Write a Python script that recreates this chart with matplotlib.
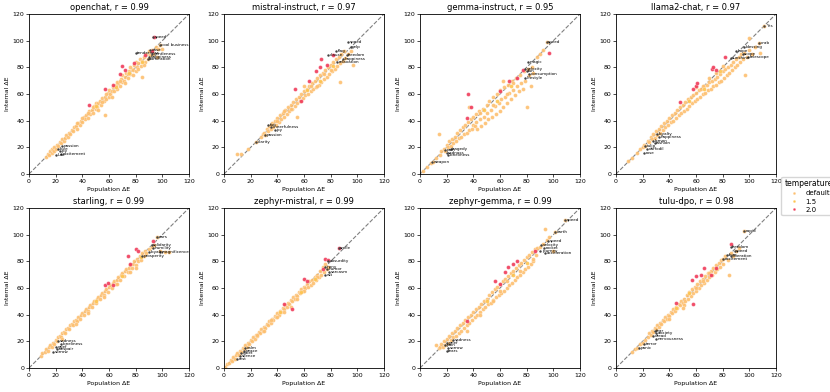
import matplotlib
matplotlib.use("Agg")
import matplotlib.pyplot as plt
from matplotlib.lines import Line2D

# ── colours ──────────────────────────────────────────────────────────────────
C_DEFAULT = "#fdbf6f"
C_T15     = "#fec44f"
C_T20     = "#f03b5a"
DIAG      = "#808080"

# ── data ─────────────────────────────────────────────────────────────────────
TITLES = ["openchat, r = 0.99", "mistral-instruct, r = 0.97", "gemma-instruct, r = 0.95",
          "llama2-chat, r = 0.97", "starling, r = 0.99", "zephyr-mistral, r = 0.99",
          "zephyr-gemma, r = 0.99", "tulu-dpo, r = 0.98"]
TICKS = [0, 20, 40, 60, 80, 100, 120]
LEGEND_LABELS = ["default", "1.5", "2.0"]

OPENCHAT_DEF = [(13,13),(14,15),(15,14),(16,17),(17,16),(17,19),(18,18),(19,20),(19,17),(20,19),(21,22),(22,21),
                (23,24),(24,23),(25,26),(26,25),(27,27),(28,29),(29,28),(30,31),(31,30),(32,33),(33,32),(34,35),
                (35,36),(36,34),(37,38),(38,37),(39,40),(40,39),(41,43),(42,41),(43,44),(44,42),(45,47),(46,45),
                (47,48),(48,46),(49,51),(50,49),(50,53),(51,50),(52,53),(53,55),(54,52),(55,57),(56,55),(57,44),
                (57,58),(58,56),(59,61),(60,58),(60,63),(61,60),(62,62),(63,65),(64,62),(65,67),(66,64),(67,68),
                (68,66),(69,71),(70,69),(70,74),(71,70),(72,73),(73,76),(74,72),(75,77),(76,75),(77,79),(78,78),
                (79,82),(80,77),(80,84),(81,80),(82,83),(83,86),(84,81),(85,73),(85,85),(86,88),(87,84),(88,90),
                (89,86),(90,92),(91,89),(92,93),(93,90),(95,95),(96,88),(97,94),(98,97),(100,94),(44,46),(52,48),
                (58,60),(62,58),(66,69),(74,75),(78,74),(82,79),(86,82),(48,50),(36,38),(40,42),(55,54),(64,66),
                (68,70),(72,68),(76,80)]
OPENCHAT_T15 = [(65,65),(75,76),(85,84),(50,51)]
OPENCHAT_T20 = [(94,103),(70,81),(72,78),(68,75),(57,64),(45,52),(79,83),(87,89),(92,92),(63,67)]
OPENCHAT_WORDS = [(93,103,"speed"),(98,97,"cool business"),(91,93,"ease"),(80,91,"tenderness"),(92,90,"gentleness"),
                  (90,88,"happiness"),(89,86,"admiration"),(25,21,"passion"),(22,19,"love"),(23,17,"joy"),
                  (24,15,"excitement"),(20,14,"lust")]

MISTRAL_DEF = [(10,15),(13,15),(18,19),(24,24),(28,28),(29,30),(30,31),(31,29),(32,34),(33,32),(34,36),(35,34),
               (36,38),(37,35),(38,40),(39,37),(40,42),(41,39),(42,44),(43,41),(44,46),(45,43),(46,48),(47,45),
               (48,50),(49,47),(50,52),(51,49),(52,54),(53,51),(54,56),(55,43),(55,53),(56,58),(57,55),(58,60),
               (59,57),(60,62),(61,59),(62,64),(63,60),(64,66),(65,62),(66,68),(67,64),(68,70),(69,65),(70,72),
               (71,67),(72,74),(73,69),(74,76),(75,71),(76,78),(77,73),(78,80),(79,75),(80,82),(81,77),(82,84),
               (83,79),(84,86),(85,81),(86,88),(87,69),(87,83),(88,90),(89,85),(90,92),(91,87),(93,90),(95,92),
               (97,82),(60,66),(65,66),(70,66),(75,75),(80,78),(45,47),(50,49),(40,40),(35,37)]
MISTRAL_T15 = [(62,63),(72,70),(82,81)]
MISTRAL_T20 = [(73,86),(69,77),(53,64),(58,55),(72,80),(64,70),(77,82),(82,89)]
MISTRAL_WORDS = [(93,99,"speed"),(95,95,"yelp"),(84,92,"flag"),(78,89,"clause"),(92,89,"freedom"),
                 (89,86,"happiness"),(85,84,"relaxation"),(33,37,"fun"),(35,35,"cheerfulness"),
                 (38,33,"joy"),(31,29,"passion"),(24,24,"clarity")]

GEMMA_DEF = [(2,2),(5,5),(8,8),(10,9),(12,12),(14,30),(15,14),(16,17),(18,19),(19,17),(20,22),(21,20),(22,25),
             (23,21),(24,26),(25,23),(26,28),(27,25),(28,31),(29,27),(30,33),(31,28),(32,35),(33,30),(34,37),
             (35,31),(36,39),(37,33),(38,41),(39,34),(40,43),(40,37),(41,36),(42,45),(42,39),(43,34),(44,47),
             (45,41),(46,36),(47,49),(48,43),(49,38),(50,52),(50,46),(51,41),(52,55),(53,48),(54,43),(55,58),
             (56,51),(57,45),(58,60),(59,53),(60,47),(60,63),(61,56),(62,50),(63,65),(64,58),(65,53),(66,67),
             (67,61),(68,56),(69,70),(70,63),(71,59),(72,72),(73,66),(74,62),(75,74),(76,68),(77,64),(78,77),
             (79,70),(80,50),(81,79),(82,74),(83,66),(84,80),(85,76),(88,88),(90,90),(92,93),(95,99),(37,50),
             (45,46),(55,52),(65,60),(70,68),(62,70)]
GEMMA_T15 = [(48,48),(58,55),(68,66)]
GEMMA_T20 = [(36,60),(38,50),(97,91),(67,70),(73,72),(77,78),(60,62),(35,42)]
GEMMA_WORDS = [(95,99,"speed"),(81,84,"magic"),(79,79,"velocity"),(80,77,"fun"),(82,75,"consumption"),
               (79,72,"lifestyle"),(23,19,"tragedy"),(19,18,"pain"),(20,16,"sadness"),(21,14,"loneliness"),
               (9,9,"weapon")]

LLAMA_DEF = [(9,10),(12,12),(16,16),(18,19),(20,20),(21,22),(22,21),(24,25),(25,24),(26,28),(27,26),(28,30),
             (29,27),(30,32),(31,29),(32,34),(33,31),(34,36),(35,33),(36,38),(37,35),(38,40),(39,37),(40,42),
             (41,39),(42,44),(43,40),(44,46),(45,42),(46,48),(47,44),(48,50),(49,46),(50,52),(51,47),(52,54),
             (53,49),(54,56),(55,51),(56,58),(57,53),(58,59),(59,55),(60,61),(61,56),(62,63),(63,58),(64,64),
             (65,60),(66,66),(67,61),(68,67),(69,63),(70,69),(71,64),(72,70),(73,66),(74,71),(75,67),(76,73),
             (77,69),(78,75),(79,70),(80,77),(81,72),(82,79),(83,74),(84,80),(85,76),(86,82),(87,78),(88,84),
             (89,80),(90,86),(91,82),(92,88),(93,84),(94,90),(95,86),(96,91),(97,74),(98,88),(100,93),(100,102),
             (102,90),(104,95),(107,98),(108,91),(111,111),(60,65),(70,72),(80,81),(65,66),(75,76)]
LLAMA_T15 = [(55,55),(66,64),(78,77)]
LLAMA_T20 = [(58,64),(60,66),(61,68),(72,79),(73,80),(75,78),(48,54),(82,88)]
LLAMA_WORDS = [(111,111,"Yes"),(107,98,"crab"),(96,95,"blessing"),(90,92,"hope"),(95,90,"scope"),
               (99,88,"telescope"),(86,87,"sunshine"),(31,30,"loyalty"),(32,28,"happiness"),(28,25,"lemon"),
               (29,23,"fashion"),(22,21,"tulip"),(23,19,"daffodil"),(21,16,"rose")]

STARLING_DEF = [(9,9),(10,11),(12,12),(13,14),(14,13),(15,16),(16,17),(17,16),(18,19),(19,18),(20,21),(21,20),
                (22,23),(23,24),(24,23),(25,26),(26,27),(27,26),(28,29),(29,30),(30,29),(31,32),(32,33),(33,32),
                (34,35),(35,36),(36,35),(37,38),(38,37),(39,40),(40,41),(41,40),(42,43),(43,44),(44,43),(45,46),
                (46,47),(47,46),(48,49),(49,50),(50,49),(51,52),(52,53),(53,52),(54,55),(55,56),(56,55),(57,58),
                (58,59),(59,57),(60,61),(61,62),(62,60),(63,64),(64,65),(65,63),(66,66),(67,68),(68,66),(69,70),
                (70,71),(71,69),(72,73),(73,74),(74,72),(75,75),(76,77),(77,75),(78,78),(79,80),(80,77),(81,82),
                (82,80),(83,84),(84,81),(85,86),(86,84),(87,88),(88,86),(90,89),(92,91),(94,92),(96,98),(98,88),
                (102,87),(105,87),(44,41),(56,53),(66,63),(76,72),(80,75),(35,33),(25,22)]
STARLING_T15 = [(50,50),(70,69),(84,83)]
STARLING_T20 = [(80,89),(82,88),(74,84),(63,62),(57,62),(59,64),(76,78),(93,95)]
STARLING_WORDS = [(96,98,"ears"),(92,92,"solidarity"),(93,90,"humility"),(90,87,"loyalty"),
                  (98,87,"magnificence"),(85,84,"prosperity"),(22,20,"sadness"),(24,18,"loneliness"),
                  (20,16,"grief"),(21,14,"despair"),(18,12,"sorrow")]

ZMISTRAL_DEF = [(1,1),(2,3),(4,4),(5,6),(6,5),(7,8),(8,7),(9,10),(10,11),(11,10),(12,13),(13,12),(14,15),(15,14),
                (16,17),(17,16),(18,19),(19,18),(20,21),(21,20),(22,23),(23,22),(24,25),(25,24),(26,27),(27,26),
                (28,29),(29,28),(30,31),(31,30),(32,33),(33,32),(34,35),(35,34),(36,37),(37,36),(38,39),(39,38),
                (40,41),(41,40),(42,43),(43,42),(44,45),(45,44),(46,47),(47,46),(48,49),(49,48),(50,51),(51,50),
                (52,53),(53,52),(54,55),(55,54),(56,57),(57,56),(58,59),(59,58),(60,61),(61,60),(62,63),(63,61),
                (64,65),(65,62),(66,66),(67,64),(68,68),(69,66),(70,70),(71,68),(72,73),(73,70),(74,76),(75,72),
                (76,78),(77,74),(78,76),(40,38),(45,42),(50,46),(55,52),(30,28),(25,25),(35,36),(60,58),(70,68)]
ZMISTRAL_T15 = [(42,42),(58,57),(68,67)]
ZMISTRAL_T20 = [(86,90),(76,82),(51,44),(60,67),(62,65),(78,81),(45,48),(74,74)]
ZMISTRAL_WORDS = [(86,90,"smile"),(78,80,"absurdity"),(76,76,"irony"),(77,74,"humor"),(79,72,"sarcasm"),
                  (76,70,"wit"),(16,15,"calm"),(15,13,"peace"),(13,11,"quiet"),(12,9,"silence"),(10,7,"rest")]

ZGEMMA_DEF = [(12,17),(14,15),(15,16),(16,18),(17,16),(18,20),(19,17),(20,22),(21,19),(22,24),(23,21),(24,26),
              (25,23),(26,28),(27,24),(28,30),(29,26),(30,32),(31,28),(32,34),(33,30),(34,36),(35,28),(35,32),
              (36,38),(37,34),(38,40),(39,36),(40,42),(41,38),(42,44),(43,40),(44,46),(45,42),(46,48),(47,44),
              (48,50),(49,46),(50,52),(51,48),(52,55),(53,49),(54,57),(55,51),(56,59),(57,53),(58,61),(59,55),
              (60,63),(61,56),(62,65),(63,58),(64,67),(65,60),(66,69),(67,62),(68,71),(69,64),(70,73),(71,66),
              (72,75),(73,68),(74,77),(75,70),(76,79),(77,72),(78,81),(79,74),(80,83),(81,76),(82,85),(83,78),
              (84,87),(85,80),(86,89),(87,85),(88,90),(90,91),(92,93),(94,104),(95,96),(97,98),(100,88),
              (101,102),(109,111),(45,40),(55,50),(65,65),(75,73),(85,82),(60,58)]
ZGEMMA_T15 = [(50,50),(70,70),(80,79)]
ZGEMMA_T20 = [(66,76),(70,78),(56,65),(64,72),(60,63),(73,80),(35,35),(86,88)]
ZGEMMA_WORDS = [(109,111,"speed"),(101,102,"earth"),(96,95,"speed"),(91,92,"velocity"),(93,90,"rocket"),
                (90,88,"journey"),(94,86,"acceleration"),(25,21,"sadness"),(20,19,"grief"),(19,17,"pain"),
                (21,15,"sorrow"),(20,13,"tears")]

TULU_DEF = [(12,12),(14,14),(16,15),(18,18),(20,19),(22,21),(24,23),(25,26),(26,25),(27,28),(28,27),(29,30),
            (30,29),(31,32),(32,31),(33,34),(34,33),(35,36),(36,35),(37,38),(38,37),(39,40),(40,39),(41,42),
            (42,41),(43,44),(44,43),(45,46),(46,45),(47,48),(48,47),(49,50),(50,49),(51,52),(52,50),(53,55),
            (54,52),(55,57),(56,54),(57,59),(58,56),(59,61),(60,58),(61,63),(62,60),(63,65),(64,62),(65,67),
            (66,64),(67,69),(68,66),(69,71),(70,68),(71,73),(72,70),(73,75),(74,72),(75,77),(76,74),(77,79),
            (78,76),(79,81),(80,78),(82,84),(84,81),(85,70),(86,86),(88,84),(90,88),(92,90),(96,103),(40,37),
            (51,47),(50,45),(60,60),(70,71),(80,82),(65,65)]
TULU_T15 = [(45,45),(55,56),(75,74)]
TULU_T20 = [(57,66),(60,69),(64,70),(71,70),(75,75),(45,49),(58,48),(86,93),(66,75)]
TULU_WORDS = [(96,103,"rapid"),(86,91,"freedom"),(89,88,"speed"),(83,85,"love"),(86,84,"liberation"),
              (80,82,"excitement"),(29,28,"fear"),(30,26,"anxiety"),(28,24,"dread"),(30,22,"nervousness"),
              (21,18,"terror"),(17,15,"panic")]

PANELS = [
    (OPENCHAT_DEF, OPENCHAT_T15, OPENCHAT_T20, OPENCHAT_WORDS),
    (MISTRAL_DEF, MISTRAL_T15, MISTRAL_T20, MISTRAL_WORDS),
    (GEMMA_DEF, GEMMA_T15, GEMMA_T20, GEMMA_WORDS),
    (LLAMA_DEF, LLAMA_T15, LLAMA_T20, LLAMA_WORDS),
    (STARLING_DEF, STARLING_T15, STARLING_T20, STARLING_WORDS),
    (ZMISTRAL_DEF, ZMISTRAL_T15, ZMISTRAL_T20, ZMISTRAL_WORDS),
    (ZGEMMA_DEF, ZGEMMA_T15, ZGEMMA_T20, ZGEMMA_WORDS),
    (TULU_DEF, TULU_T15, TULU_T20, TULU_WORDS),
]

# ── figure ───────────────────────────────────────────────────────────────────
W, H = 830, 392
fig = plt.figure(figsize=(W / 100, H / 100), dpi=100)
LEFTS = [29, 224, 420, 616]
TOPS  = [14, 208]
SIDE  = 160

for i, (pts_def, pts_15, pts_20, words) in enumerate(PANELS):
    r, c = divmod(i, 4)
    ax = fig.add_axes([LEFTS[c] / W, 1 - (TOPS[r] + SIDE) / H, SIDE / W, SIDE / H])

    ax.plot([0, 120], [0, 120], ls="--", color=DIAG, lw=0.8, zorder=1)
    for pts, col in ((pts_def, C_DEFAULT), (pts_15, C_T15), (pts_20, C_T20)):
        xs, ys = zip(*pts)
        ax.scatter(xs, ys, s=8, color=col, edgecolor="white", linewidth=0.2, alpha=0.9, zorder=2)

    for x, y, w in words:
        ax.scatter([x], [y], s=3, color="#444444", zorder=3, linewidth=0)
        ax.text(x + 1.2, y, w, fontsize=3, va="center", ha="left", color="black", zorder=4)

    ax.set_xlim(0, 120)
    ax.set_ylim(0, 120)
    ax.set_xticks(TICKS)
    ax.set_yticks(TICKS)
    ax.tick_params(labelsize=4.5, length=2, width=0.5, pad=1.5)
    for sp in ax.spines.values():
        sp.set_linewidth(0.6)
    ax.set_xlabel("Population ΔE", fontsize=4.5, labelpad=2)
    ax.set_ylabel("Internal ΔE", fontsize=4.5, labelpad=2)
    ax.set_title(TITLES[i], fontsize=6, pad=3)

handles = [Line2D([], [], ls="", marker="o", markersize=2, color=col, markeredgecolor="white",
                  markeredgewidth=0.2) for col in (C_DEFAULT, C_T15, C_T20)]
fig.legend(handles, LEGEND_LABELS, title="temperature", loc="center left",
           bbox_to_anchor=(778 / W, 0.5), fontsize=5, title_fontsize=5.5,
           frameon=True, borderpad=0.4, handletextpad=0.6, labelspacing=0.3)

fig.savefig("out.png", dpi=100)
